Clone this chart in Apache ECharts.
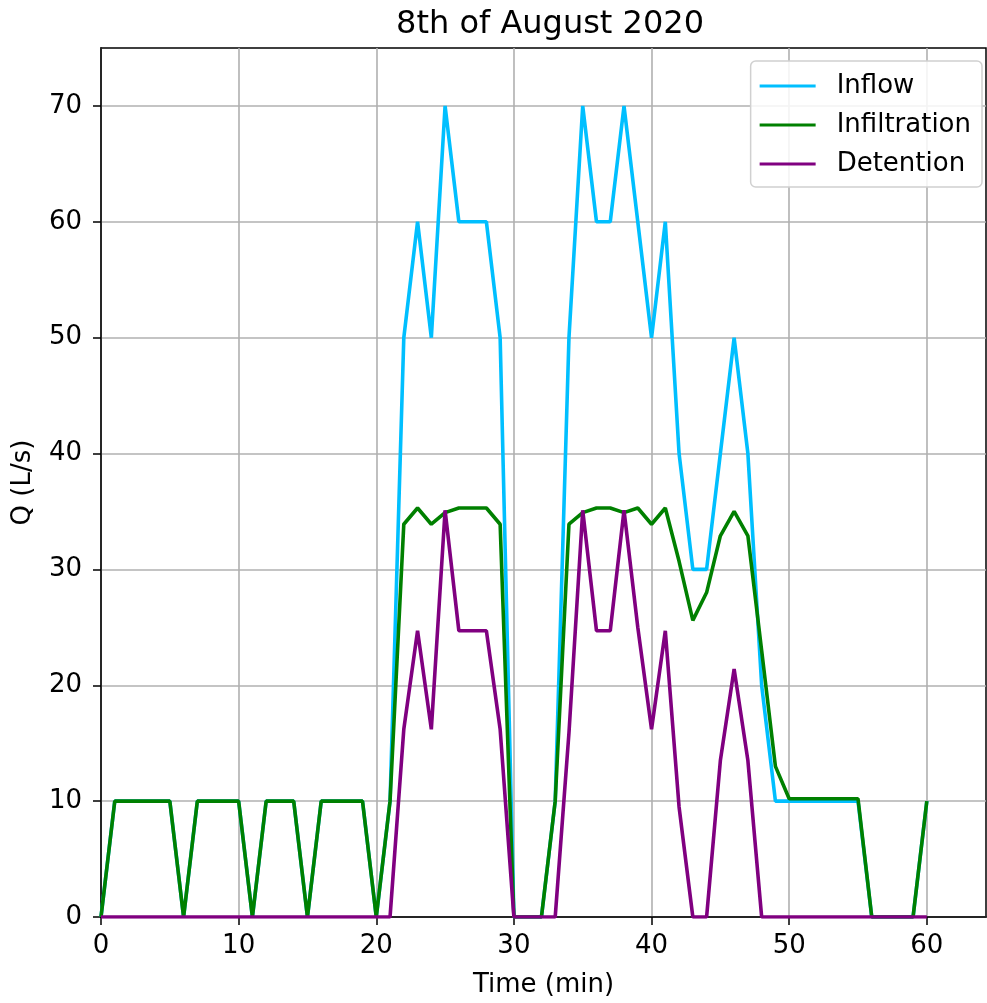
<!DOCTYPE html>
<html>
<head>
<meta charset="utf-8">
<script src="https://cdn.jsdelivr.net/npm/echarts@6/dist/echarts.min.js"></script>
<style>html,body{margin:0;padding:0;background:#fff}#c{width:987px;height:1003px}</style>
</head>
<body>
<div id="c"></div>
<script>
const minutes = Array.from({length: 61}, (_, i) => i);
const inflow = [0,10,10,10,10,10,0,10,10,10,10,0,10,10,10,0,10,10,10,10,0,10,50,60,50,70,60,60,60,50,0,0,0,10,50,70,60,60,70,60,50,60,40,30,30,40,50,40,20,10,10,10,10,10,10,10,0,0,0,0,10];
const infiltration = [0,10,10,10,10,10,0,10,10,10,10,0,10,10,10,0,10,10,10,10,0,10,33.9,35.3,33.9,34.9,35.3,35.3,35.3,33.9,0,0,0,10,33.9,34.9,35.3,35.3,34.9,35.3,33.9,35.3,30.7,25.6,28,32.9,35,32.9,23,13,10.2,10.2,10.2,10.2,10.2,10.2,0,0,0,0,10];
const detention = [0,0,0,0,0,0,0,0,0,0,0,0,0,0,0,0,0,0,0,0,0,0,16.2,24.7,16.2,35.1,24.7,24.7,24.7,16.2,0,0,0,0,15.9,35.1,24.7,24.7,35.1,25,16.2,24.7,9.5,0,0,13.5,21.4,13.5,0,0,0,0,0,0,0,0,0,0,0,0,0];
const xTicks = [0,10,20,30,40,50,60];
const yTicks = [0,10,20,30,40,50,60,70];
const title = '8th of August 2020';
const xName = 'Time (min)';
const yName = 'Q (L/s)';

const pair = arr => minutes.map((m, i) => [m, arr[i]]);
const font = 'DejaVu Sans';
const chart = echarts.init(document.getElementById('c'), null, {renderer: 'canvas'});
const mkSeries = (name, data, color) => ({
  name, type: 'line', data: pair(data), showSymbol: false, symbol: 'none',
  lineStyle: {color, width: 3.6}, itemStyle: {color}, animation: false
});
chart.setOption({
  animation: false,
  title: {text: title, left: 545, top: 4, textAlign: 'center',
    textStyle: {fontFamily: font, fontSize: 32, fontWeight: 'normal', color: '#000'}},
  grid: {left: 101, right: 1, top: 48, bottom: 85, show: true, borderColor: '#000', borderWidth: 1.5, containLabel: false},
  legend: {
    right: 5, top: 61, orient: 'vertical', itemWidth: 56, itemHeight: 3, icon: 'rect',
    itemGap: 13, padding: [12, 11, 10, 9],
    backgroundColor: 'rgba(255,255,255,0.85)', borderColor: '#d0d0d0', borderWidth: 1.5, borderRadius: 5,
    textStyle: {fontFamily: font, fontSize: 26, color: '#000', padding: [0, 0, 0, 16], lineHeight: 26},
    data: ['Inflow', 'Infiltration', 'Detention']
  },
  xAxis: {
    type: 'value', min: 0, max: 64.3, interval: 10,
    name: xName, nameLocation: 'middle', nameGap: 55,
    nameTextStyle: {fontFamily: font, fontSize: 26, color: '#000'},
    axisLine: {show: true, lineStyle: {color: '#000', width: 1.5}},
    axisTick: {show: true, inside: false, length: 8, lineStyle: {color: '#000', width: 1.5},
      customValues: xTicks},
    axisLabel: {fontFamily: font, fontSize: 26, color: '#000', margin: 16,
      customValues: xTicks},
    splitLine: {show: true, lineStyle: {color: '#b0b0b0', width: 1.6}}
  },
  yAxis: {
    type: 'value', min: 0, max: 75, interval: 10,
    name: yName, nameLocation: 'middle', nameGap: 65, nameRotate: 90,
    nameTextStyle: {fontFamily: font, fontSize: 26, color: '#000'},
    axisLine: {show: true, lineStyle: {color: '#000', width: 1.5}},
    axisTick: {show: true, inside: false, length: 8, lineStyle: {color: '#000', width: 1.5},
      customValues: yTicks},
    axisLabel: {fontFamily: font, fontSize: 26, color: '#000', margin: 19,
      customValues: yTicks},
    splitLine: {show: true, lineStyle: {color: '#b0b0b0', width: 1.6}}
  },
  series: [
    mkSeries('Inflow', inflow, '#00BFFF'),
    mkSeries('Infiltration', infiltration, '#008000'),
    mkSeries('Detention', detention, '#800080')
  ]
});
</script>
</body>
</html>
